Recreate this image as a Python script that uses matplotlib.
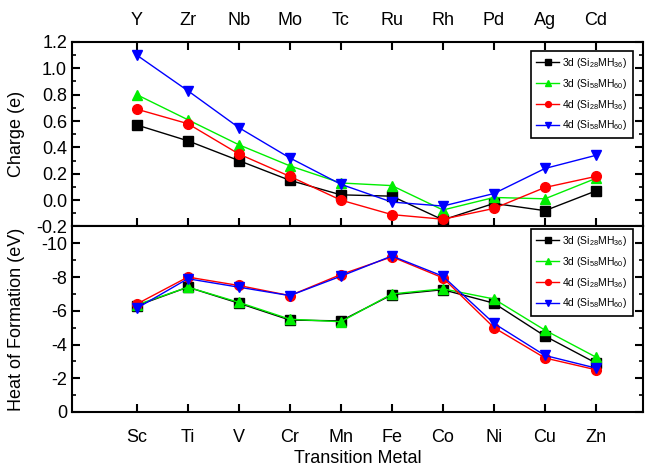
import numpy as np
import matplotlib
matplotlib.use("Agg")
import matplotlib.pyplot as plt
from matplotlib.ticker import MultipleLocator

plt.rcParams['font.family'] = ['Liberation Sans', 'DejaVu Sans']
plt.rcParams['mathtext.fontset'] = 'custom'
plt.rcParams['mathtext.rm'] = 'Liberation Sans'

metals_3d = ['Sc', 'Ti', 'V', 'Cr', 'Mn', 'Fe', 'Co', 'Ni', 'Cu', 'Zn']
metals_4d = ['Y', 'Zr', 'Nb', 'Mo', 'Tc', 'Ru', 'Rh', 'Pd', 'Ag', 'Cd']

labels = [r'3d (Si$_{28}$MH$_{36}$)', r'3d (Si$_{58}$MH$_{60}$)',
          r'4d (Si$_{28}$MH$_{36}$)', r'4d (Si$_{58}$MH$_{60}$)']

# charge (e), top panel
charge_3d_28 = [0.57, 0.45, 0.30, 0.15, 0.04, 0.03, -0.15, -0.025, -0.08, 0.07]
charge_3d_58 = [0.80, 0.61, 0.42, 0.26, 0.13, 0.11, -0.075, 0.02, 0.01, 0.165]
charge_4d_28 = [0.69, 0.58, 0.35, 0.18, 0.00, -0.11, -0.145, -0.063, 0.096, 0.18]
charge_4d_58 = [1.10, 0.83, 0.55, 0.32, 0.12, -0.015, -0.045, 0.05, 0.24, 0.34]

# heat of formation (eV), bottom panel
heat_3d_28 = [-6.3, -7.4, -6.45, -5.45, -5.4, -6.95, -7.25, -6.45, -4.5, -2.9]
heat_3d_58 = [-6.35, -7.4, -6.5, -5.5, -5.35, -7.0, -7.3, -6.7, -4.85, -3.25]
heat_4d_28 = [-6.4, -8.0, -7.5, -6.9, -8.15, -9.2, -7.95, -5.0, -3.2, -2.5]
heat_4d_58 = [-6.15, -7.9, -7.4, -6.9, -8.05, -9.25, -8.05, -5.25, -3.35, -2.6]

styles = [('black', 's'), ('#00ee00', '^'), ('red', 'o'), ('blue', 'v')]

x = np.arange(len(metals_3d))

fig = plt.figure(figsize=(6.45, 4.66), dpi=100)
ax1 = fig.add_axes([0.1116, 0.514, 0.886, 0.396])
ax2 = fig.add_axes([0.1116, 0.116, 0.886, 0.398])

for (c, m), y, lab in zip(styles, [charge_3d_28, charge_3d_58, charge_4d_28, charge_4d_58], labels):
    ax1.plot(x, y, color=c, marker=m, ms=7, lw=1, label=lab)
for (c, m), y, lab in zip(styles, [heat_3d_28, heat_3d_58, heat_4d_28, heat_4d_58], labels):
    ax2.plot(x, y, color=c, marker=m, ms=7, lw=1, label=lab)

for ax in (ax1, ax2):
    ax.set_xlim(-1.27, 9.93)
    for s in ax.spines.values():
        s.set_linewidth(1.5)
    ax.tick_params(direction='in', width=1.5, length=6, labelsize=13, right=True)
    ax.tick_params(which='minor', direction='in', width=1.2, length=3, right=True)
    leg = ax.legend(loc='upper right', fontsize=7.5, handlelength=2.2, handletextpad=0.3,
                    borderpad=0.5, labelspacing=0.65, fancybox=False, edgecolor='black',
                    framealpha=1, markerscale=0.6,
                    bbox_to_anchor=(0.99, 0.98) if ax is ax1 else (0.99, 1.015))
    leg.get_frame().set_linewidth(1.2)

ax1.set_ylim(-0.2, 1.2)
ax1.yaxis.set_minor_locator(MultipleLocator(0.1))
ax1.set_yticks(np.arange(-0.2, 1.21, 0.2))
ax1.set_yticklabels(['-0.2', '0.0', '0.2', '0.4', '0.6', '0.8', '1.0', '1.2'])
ax1.set_xticks(x)
ax1.set_xticklabels(metals_4d)
ax1.tick_params(axis='x', top=True, bottom=True, labeltop=True, labelbottom=False, pad=9)
ax1.set_ylabel('Charge (e)', fontsize=13)
ax1.yaxis.set_label_coords(-0.082, 0.5)

ax2.set_ylim(0, -11)
ax2.set_yticks([-10, -8, -6, -4, -2, 0])
ax2.set_yticklabels(['-10', '-8', '-6', '-4', '-2', '0'])
ax2.yaxis.set_minor_locator(MultipleLocator(1))
ax2.set_xticks(x)
ax2.set_xticklabels(metals_3d)
ax2.tick_params(axis='x', top=False, pad=12)
ax2.set_ylabel('Heat of Formation (eV)', fontsize=13)
ax2.yaxis.set_label_coords(-0.082, 0.5)
ax2.set_xlabel('Transition Metal', fontsize=13, labelpad=3)

fig.savefig('out.png', dpi=100)
